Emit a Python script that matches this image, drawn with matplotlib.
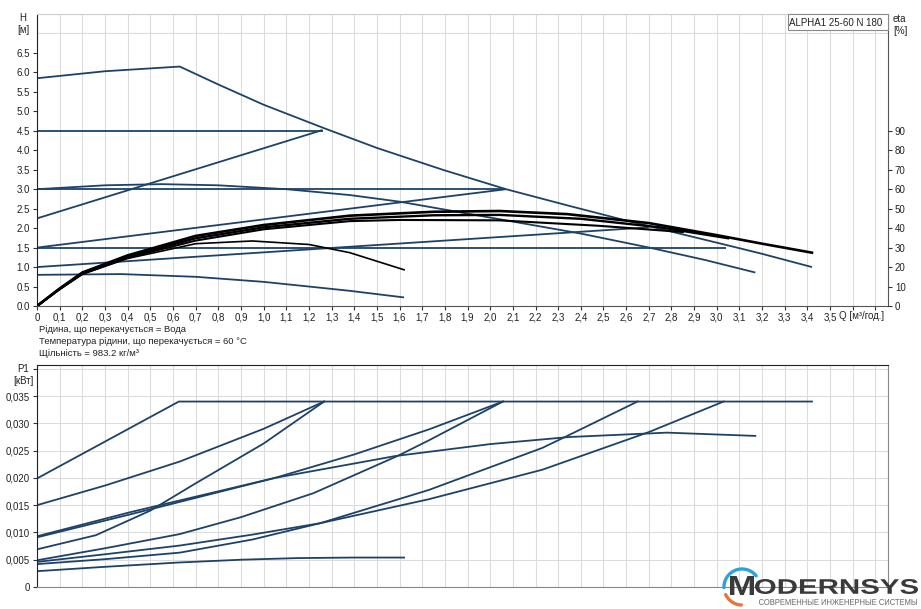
import numpy as np
import matplotlib
matplotlib.use("Agg")
import matplotlib.pyplot as plt
from matplotlib.textpath import TextPath
from matplotlib.patches import PathPatch, Rectangle
from matplotlib.font_manager import FontProperties
from matplotlib.transforms import Affine2D

plt.rcParams['font.family'] = ['Liberation Sans', 'DejaVu Sans']

# ---------------- data: head curves (Q in m3/h, H in m) ----------------
max_q = [0, 0.3, 0.63, 0.8, 1.0, 1.27, 1.5, 1.79, 2.07, 2.35, 2.59, 2.8, 3.04, 3.2, 3.42]
max_h = [5.85, 6.03, 6.15, 5.69, 5.17, 4.56, 4.06, 3.5, 3.0, 2.57, 2.21, 1.91, 1.57, 1.34, 1.0]

cp3_q = [0, 1.26]
cp3_h = [4.5, 4.5]
pp3_q = [0, 1.26]
pp3_h = [2.25, 4.52]
cp2_q = [0, 2.07]
cp2_h = [3.0, 3.0]
pp2_q = [0, 2.07]
pp2_h = [1.5, 3.0]
cp1_q = [0, 3.04]
cp1_h = [1.5, 1.5]
pp1_q = [0, 2.7]
pp1_h = [1.0, 2.02]

c2_q = [0, 0.3, 0.55, 0.8, 1.1, 1.38, 1.6, 2.04, 2.4, 2.71, 2.95, 3.17]
c2_h = [3.0, 3.1, 3.13, 3.1, 3.0, 2.85, 2.68, 2.23, 1.86, 1.49, 1.18, 0.86]
c1_q = [0, 0.37, 0.7, 1.0, 1.2, 1.38, 1.62]
c1_h = [0.8, 0.82, 0.75, 0.62, 0.5, 0.39, 0.22]

# efficiency curves (eta in %)
e1_q = [0, 0.1, 0.2, 0.4, 0.7, 1.0, 1.38, 1.75, 2.04, 2.34, 2.7, 3.0, 3.2, 3.42]
e1_eta = [0, 9, 17.2, 26, 36, 41.6, 46.4, 48.4, 48.8, 47.2, 42.6, 36.4, 32, 27.4]
e2_q = [0, 0.1, 0.2, 0.4, 0.7, 1.0, 1.38, 1.75, 2.04, 2.4, 2.75, 3.05]
e2_eta = [0, 8.8, 16.8, 25.4, 34.8, 40.4, 44.8, 46.6, 46.8, 44.8, 40.4, 34.8]
e3_q = [0, 0.1, 0.2, 0.4, 0.7, 1.0, 1.38, 1.6, 2.04, 2.48, 2.85]
e3_eta = [0, 8.6, 16.4, 24.8, 33.6, 39.4, 43.6, 44.2, 44.0, 41.2, 38.0]
e4_q = [0, 0.1, 0.2, 0.4, 0.7, 0.95, 1.2, 1.38, 1.62]
e4_eta = [0, 8.6, 16.4, 24.4, 32, 33.4, 31.6, 27.4, 18.6]

# ---------------- data: power curves (P1 in kW) ----------------
pmax_q = [0, 0.626, 3.42]
pmax_p = [0.0199, 0.034, 0.034]
pcp3_q = [0, 0.3, 0.63, 1.0, 1.267]
pcp3_p = [0.0150, 0.0186, 0.0230, 0.0290, 0.034]
ppp3_q = [0, 0.26, 0.5, 0.7, 1.0, 1.267]
ppp3_p = [0.0069, 0.0095, 0.0140, 0.0190, 0.0263, 0.034]
pcp2_q = [0, 0.41, 1.05, 1.4, 1.73, 2.056]
pcp2_p = [0.0091, 0.0133, 0.0200, 0.0243, 0.0289, 0.034]
pc2_q = [0, 0.41, 1.05, 1.58, 2.0, 2.35, 2.78, 3.17]
pc2_p = [0.0093, 0.0137, 0.0200, 0.0240, 0.0262, 0.0275, 0.0283, 0.0277]
ppp2_q = [0, 0.3, 0.63, 0.9, 1.22, 1.59, 1.73, 2.056]
ppp2_p = [0.0049, 0.0071, 0.0097, 0.0128, 0.0172, 0.0240, 0.0269, 0.034]
pcp1_q = [0, 0.3, 0.63, 0.95, 1.25, 1.73, 2.23, 2.7, 3.03]
pcp1_p = [0.0046, 0.0060, 0.0076, 0.0096, 0.0117, 0.0161, 0.0215, 0.0284, 0.034]
ppp1_q = [0, 0.3, 0.63, 0.95, 1.25, 1.73, 2.23, 2.34, 2.65]
ppp1_p = [0.0042, 0.0051, 0.0063, 0.0087, 0.0117, 0.0178, 0.0255, 0.0277, 0.034]
pc1_q = [0, 0.3, 0.63, 0.9, 1.15, 1.4, 1.62]
pc1_p = [0.0029, 0.0037, 0.0045, 0.0050, 0.0053, 0.0054, 0.0054]

# ---------------- labels ----------------
h_ticks = [0, 0.5, 1.0, 1.5, 2.0, 2.5, 3.0, 3.5, 4.0, 4.5, 5.0, 5.5, 6.0, 6.5]
eta_ticks = [0, 10, 20, 30, 40, 50, 60, 70, 80, 90]
p_ticks = [0, 0.005, 0.010, 0.015, 0.020, 0.025, 0.030, 0.035]
p_tick_labels = ['0', '0,005', '0,010', '0,015', '0,020', '0,025', '0,030', '0,035']
q_ticks = [round(0.1 * i, 1) for i in range(38)]
q_labels = [('0' if v == 0 else f"{v:.1f}".replace('.', ',')) if v <= 3.5 else '' for v in q_ticks]
info_lines = ["Рідина, що перекачується = Вода",
              "Температура рідини, що перекачується = 60 °C",
              "Щільність = 983.2 кг/м³"]
model_name = "ALPHA1 25-60 N 180"

W, H = 921, 609
fig = plt.figure(figsize=(W / 100, H / 100), dpi=100)
BLUE = '#1d4268'
GRID = '#dcdcdc'
XMAX = 3.7556
FS = 7

def fx(px):
    return px / W

def fy(py):
    return 1 - py / H

# ---------------- top chart ----------------
ax = fig.add_axes([fx(37), fy(306), fx(888) - fx(37), fy(14) - fy(306)])
ax.set_xlim(0, XMAX)
ax.set_ylim(0, 7.5)
ax.set_xticks(q_ticks)
ax.set_xticklabels(q_labels, fontsize=FS)
ax.set_yticks(h_ticks)
ax.set_yticklabels([f"{v:.1f}" for v in h_ticks], fontsize=FS)
ax.set_yticks(np.arange(0, 7.51, 0.5), minor=True)
ax.grid(True, which='major', axis='x', color=GRID, lw=0.8)
ax.grid(True, which='minor', axis='y', color=GRID, lw=0.8)
ax.tick_params(axis='x', length=3, pad=2, colors='#333333', labelcolor='#222222')
ax.tick_params(axis='y', length=3, pad=2, colors='#333333', labelcolor='#222222')
ax.tick_params(axis='y', which='minor', length=0)
ax.spines['left'].set_color('#222222')
ax.spines['bottom'].set_color('#555555')
ax.spines['top'].set_color('#cfcfcf')
ax.spines['right'].set_color('#555555')
ax.set_axisbelow(True)

for q, h in [(max_q, max_h), (cp3_q, cp3_h), (pp3_q, pp3_h), (cp2_q, cp2_h), (pp2_q, pp2_h),
             (cp1_q, cp1_h), (pp1_q, pp1_h), (c2_q, c2_h), (c1_q, c1_h)]:
    ax.plot(q, h, color=BLUE, lw=1.3, solid_capstyle='butt')

ax2 = ax.twinx()
ax2.set_ylim(0, 150)
ax2.set_yticks(eta_ticks)
ax2.set_yticklabels([str(v) for v in eta_ticks], fontsize=FS)
ax2.tick_params(axis='y', length=3, pad=2, colors='#333333', labelcolor='#222222')
for s in ax2.spines.values():
    s.set_visible(False)
for q, e, lw in [(e1_q, e1_eta, 1.9), (e2_q, e2_eta, 1.7), (e3_q, e3_eta, 1.5), (e4_q, e4_eta, 1.2)]:
    ax2.plot(q, e, color='black', lw=lw)

# ---------------- bottom chart ----------------
bx = fig.add_axes([fx(37), fy(587), fx(888) - fx(37), fy(365) - fy(587)])
bx.set_xlim(0, XMAX)
bx.set_ylim(0, 0.0407)
bx.set_xticks(q_ticks)
bx.set_xticklabels([])
bx.tick_params(axis='x', length=0)
bx.set_yticks(p_ticks + [0.04])
bx.set_yticklabels(p_tick_labels + [''], fontsize=FS)
bx.tick_params(axis='y', length=3, pad=2, colors='#333333', labelcolor='#222222')
bx.grid(True, color=GRID, lw=0.8)
bx.set_axisbelow(True)
bx.spines['left'].set_color('#222222')
bx.spines['top'].set_color('#222222')
bx.spines['right'].set_color('#888888')
bx.spines['bottom'].set_color('#888888')
for q, p in [(pmax_q, pmax_p), (pcp3_q, pcp3_p), (ppp3_q, ppp3_p), (pcp2_q, pcp2_p), (pc2_q, pc2_p),
             (ppp2_q, ppp2_p), (pcp1_q, pcp1_p), (ppp1_q, ppp1_p), (pc1_q, pc1_p)]:
    bx.plot(q, p, color=BLUE, lw=1.3)

# ---------------- overlay (pixel coords) ----------------
ov = fig.add_axes([0, 0, 1, 1], facecolor='none')
ov.set_xlim(0, W)
ov.set_ylim(H, 0)
ov.axis('off')

tc = '#222222'
ov.text(23, 18, "H", fontsize=FS, ha='center', va='center', color=tc)
ov.text(23, 30, "[м]", fontsize=FS, ha='center', va='center', color=tc)
ov.text(893, 19, "eta", fontsize=FS, ha='left', va='center', color=tc)
ov.text(893, 31, "[%]", fontsize=FS, ha='left', va='center', color=tc)
ov.text(23, 369, "P1", fontsize=FS, ha='center', va='center', color=tc)
ov.text(23, 381, "[кВт]", fontsize=FS, ha='center', va='center', color=tc)
ov.text(839, 316, "Q [м³/год.]", fontsize=FS, ha='left', va='center', color=tc)
for i, line in enumerate(info_lines):
    ov.text(39, 330 + 11.7 * i, line, fontsize=6.8, ha='left', va='center', color=tc)

ov.add_patch(Rectangle((788, 14), 100, 16, fill=True, facecolor='white', edgecolor='#888888', lw=0.8))
ov.text(836, 22.5, model_name, fontsize=FS, ha='center', va='center', color=tc)

# logo
def fit_text(s, x0, x1, y0, y1, color, weight='bold'):
    tp = TextPath((0, 0), s, size=100, prop=FontProperties(family='Liberation Sans', weight=weight))
    bb = tp.get_extents()
    tr = (Affine2D().translate(-bb.x0, -bb.y0)
          .scale((x1 - x0) / bb.width, -(y1 - y0) / bb.height)
          .translate(x0, y1))
    ov.add_patch(PathPatch(tr.transform_path(tp), facecolor=color, edgecolor='none'))

th = np.radians(np.linspace(38, 182, 40))
ov.plot(742 + 18 * np.cos(th), 587 - 18 * np.sin(th), color='#2aa3dc', lw=2.4, solid_capstyle='round')
th = np.radians(np.linspace(205, 268, 20))
ov.plot(742 + 18 * np.cos(th), 587 - 18 * np.sin(th), color='#e8763c', lw=2.4, solid_capstyle='round')
fit_text("M", 730, 754, 576, 595, '#3a3a3a')
fit_text("ODERNSYS", 755, 918, 579, 594, '#3a3a3a')
fit_text("СОВРЕМЕННЫЕ ИНЖЕНЕРНЫЕ СИСТЕМЫ", 759, 917, 599, 605, '#666666', weight='normal')

fig.savefig("out.png", dpi=100)
